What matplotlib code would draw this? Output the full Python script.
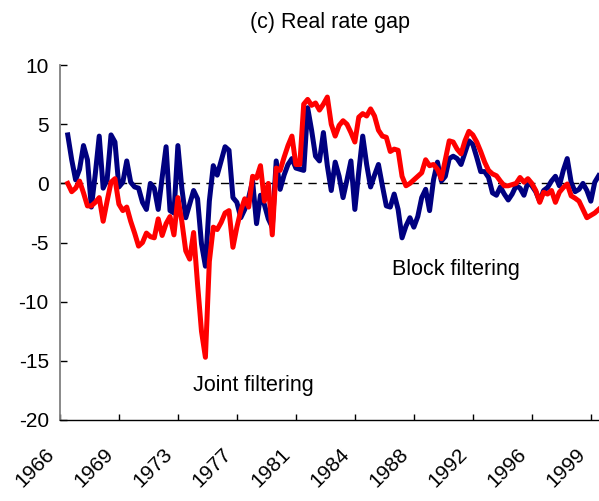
import numpy as np
import matplotlib.pyplot as plt
import matplotlib.transforms as mtransforms

plt.rcParams['font.family'] = ['Liberation Sans', 'DejaVu Sans']
plt.rcParams['axes.unicode_minus'] = False

FIRST_YEAR = 1966.5          # first observation (quarterly)
TICK_YEARS = [1966 + 3.75 * k for k in range(10)]
TICK_LABELS = ['1966', '1969', '1973', '1977', '1981', '1984', '1988', '1992', '1996', '1999']

block_filtering = [
    4.1, 2.0, 0.3, 1.2, 3.2, 2.0, -2.0, 0.8, 4.0, -0.4,
    0.3, 4.1, 3.5, -0.3, 0.1, 1.9, 0.1, -0.3, -0.4, -1.6,
    -2.2, 0.0, -0.4, -2.2, 0.5, 3.1, -2.3, -2.5, 3.2, -0.4,
    -2.9, -1.75, -0.6, -1.3, -5.1, -7.0, -1.5, 1.5, 0.7, 1.9,
    3.1, 2.8, -1.2, -1.6, -2.9, -2.2, -1.2, 0.2, -3.4, -1.0,
    -1.8, -3.0, -3.7, 1.9, -0.5, 0.7, 1.6, 2.1, 1.3, 1.2,
    1.1, 6.4, 4.5, 2.3, 1.9, 4.3, 1.5, -0.6, 1.8, 0.6,
    -1.2, 0.3, 1.9, -2.2, 1.0, 4.0, 1.6, -0.3, 0.7, 1.6,
    -0.2, -1.9, -2.0, -0.9, -2.2, -4.6, -3.6, -2.9, -3.7, -2.8,
    -1.2, -0.5, -2.3, 0.3, 1.8, 0.2, 0.6, 2.1, 2.3, 2.1,
    1.6, 2.6, 3.6, 3.3, 2.2, 1.0, 1.0, 0.5, -0.8, -1.0,
    -0.3, -0.9, -1.4, -0.9, -0.2, -0.4, -1.0, 0.1, -0.2, -0.7,
    -1.5, -0.6, -0.35, 0.2, 0.6, -0.2, 1.1, 2.1, 0.1, -0.7,
    -0.5, 0.0, -0.6, -1.5, 0.1, 0.65,
]

joint_filtering = [
    0.0, -0.7, -0.4, 0.2, -0.8, -1.9, -1.9, -1.6, -1.2, -3.2,
    -1.5, 0.1, 0.4, -1.75, -2.3, -2.0, -3.2, -4.2, -5.3, -5.0,
    -4.2, -4.5, -4.6, -3.0, -4.4, -3.4, -2.8, -4.35, -1.2, -3.2,
    -5.7, -6.4, -4.15, -8.5, -12.5, -14.7, -6.6, -3.7, -3.9, -3.3,
    -2.5, -2.3, -5.4, -3.7, -2.3, -1.3, -2.0, 0.6, 0.45, 1.5,
    -1.5, 0.0, -4.35, 1.3, 1.1, 2.2, 3.2, 4.0, 1.6, 1.6,
    6.7, 7.1, 6.6, 6.8, 6.2, 6.7, 7.3, 5.0, 4.0, 4.9,
    5.3, 5.0, 4.3, 3.5, 5.6, 5.9, 5.7, 6.3, 5.7, 4.5,
    4.0, 3.9, 2.7, 2.9, 2.8, 0.6, -0.2, 0.0, 0.3, 0.6,
    0.9, 2.0, 1.5, 1.6, 1.2, 0.4, 2.0, 3.6, 3.5, 2.9,
    2.5, 3.6, 4.4, 4.1, 3.5, 2.7, 1.8, 1.1, 0.8, 0.65,
    0.2, -0.2, -0.2, -0.1, 0.0, 0.5, 0.1, 0.4, 0.0, -0.6,
    -1.6, -0.75, -0.9, -0.6, -1.6, -0.75, -0.35, -0.05, -1.05, -1.25,
    -1.5, -2.2, -2.9, -2.7, -2.5, -2.2,
]


def main():
    years = FIRST_YEAR + 0.25 * np.arange(len(block_filtering))

    fig = plt.figure(figsize=(5.99, 5.01), dpi=100)
    ax = fig.add_axes([0.1, 0.1617, 0.9, 0.7083])

    ax.axhline(0, color='black', linestyle=(0, (6, 4.5)), linewidth=1.0, zorder=1)
    ax.plot(years, block_filtering, color='#000080', linewidth=3.6, zorder=2)
    ax.plot(years, joint_filtering, color='#ff0000', linewidth=3.6, zorder=3)

    ax.set_xlim(1966, 2000.27)
    ax.set_ylim(-20, 10)
    ax.set_yticks([-20, -15, -10, -5, 0, 5, 10])
    ax.set_xticks(TICK_YEARS)
    ax.set_xticklabels(TICK_LABELS, rotation=45, ha='right', rotation_mode='anchor')
    ax.tick_params(axis='y', direction='in', length=5, width=1, labelsize=15, pad=8)
    ax.tick_params(axis='x', direction='in', length=4, width=1, labelsize=15, pad=4)

    shift = mtransforms.ScaledTranslation(-0.15, -0.19, fig.dpi_scale_trans)
    for label in ax.get_xticklabels():
        label.set_transform(label.get_transform() + shift)

    ax.spines[['top', 'right']].set_visible(False)
    ax.spines['left'].set_color('#808080')
    ax.spines['left'].set_linewidth(1.3)
    ax.spines['bottom'].set_color('black')
    ax.spines['bottom'].set_linewidth(1.0)

    ax.text(1991.2, -7.3, 'Block filtering', ha='center', va='center', fontsize=15.5)
    ax.text(1978.3, -17.1, 'Joint filtering', ha='center', va='center', fontsize=15.5)
    fig.text(0.551, 0.956, '(c) Real rate gap', ha='center', va='center', fontsize=15.5)

    fig.savefig('out.png', dpi=100)


if __name__ == '__main__':
    main()
